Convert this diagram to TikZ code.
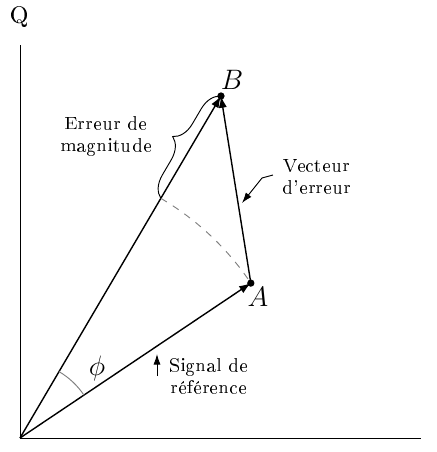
\documentclass[tikz,border=0pt]{standalone}
\usepackage[T1]{fontenc}
\usetikzlibrary{arrows.meta,decorations.pathreplacing,calc}

\begin{document}
\begin{tikzpicture}[scale=0.015,
    vec/.style={semithick, -{Latex[length=5pt,width=3.5pt]}},
    pointer/.style={thin, -{Latex[length=4.5pt,width=3pt]}},
    lbl/.style={font=\footnotesize, align=center},
    dot/.style={circle, fill, inner sep=1.1pt}]
  \useasboundingbox (-20,-14) rectangle (416,438);

  % Axes
  \coordinate (O) at (0,0);
  \coordinate (Qend) at (0,393);
  \coordinate (Iend) at (401,0);
  \draw (O) -- (Qend) node[above=4pt] (Q) {Q};
  \draw (O) -- (Iend) node[right=7pt] (I) {I};

  % Points
  \coordinate (A) at (33.86:278);
  \coordinate (B) at (59.56:396.7);
  \coordinate (P) at (59.56:278);
  \node[dot] (Adot) at (A) {};
  \node[dot] (Bdot) at (B) {};
  \node[font=\large] (Alabel) at (238,141) {$A$};
  \node[font=\large] (Blabel) at (212,358) {$B$};

  % Vectors
  \draw[vec] (O) -- (A);
  \draw[vec] (O) -- (B);
  \draw[vec] (A) -- (B);

  % Magnitude arc and angle
  \draw[dashed, gray] (P) arc[start angle=59.56, end angle=33.86, radius=278];
  \draw[gray] (33.86:77) arc[start angle=33.86, end angle=59.56, radius=77];
  \node[font=\large] (phi) at (77,70) {$\phi$};

  % Magnitude error brace
  \draw[decorate, decoration={brace, amplitude=9pt}] (P) -- (B);
  \node[lbl] (magn) at (86,302) {Erreur de\\magnitude};

  % Error vector label
  \node[lbl] (err) at (297,262) {Vecteur\\d'erreur};
  \coordinate (e1) at (253,263);
  \coordinate (e2) at (242,260);
  \coordinate (e3) at (222,235);
  \draw[pointer] (e1) -- (e2) -- (e3);

  % Reference signal label
  \node[lbl] (ref) at (189,62) {Signal de\\référence};
  \coordinate (r1) at (137,62);
  \coordinate (r2) at (137,84);
  \draw[pointer] (r1) -- (r2);
\end{tikzpicture}
\end{document}
